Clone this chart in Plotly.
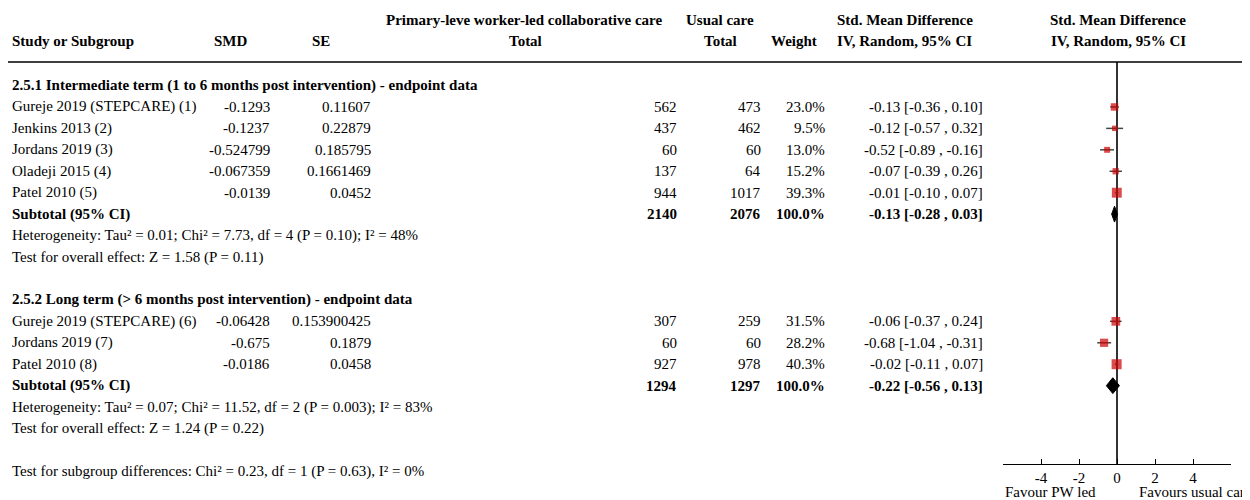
import plotly.graph_objects as go

# ---------------- data ----------------
sec1_title = "2.5.1 Intermediate term (1 to 6 months post intervention) - endpoint data"
sec1_names = ["Gureje 2019 (STEPCARE) (1)", "Jenkins 2013 (2)", "Jordans 2019 (3)",
              "Oladeji 2015 (4)", "Patel 2010 (5)"]
sec1_smd = ["-0.1293", "-0.1237", "-0.524799", "-0.067359", "-0.0139"]
sec1_se = ["0.11607", "0.22879", "0.185795", "0.1661469", "0.0452"]
sec1_n_pw = [562, 437, 60, 137, 944]
sec1_n_uc = [473, 462, 60, 64, 1017]
sec1_weight = [23.0, 9.5, 13.0, 15.2, 39.3]
sec1_est = [-0.13, -0.12, -0.52, -0.07, -0.01]
sec1_lo = [-0.36, -0.57, -0.89, -0.39, -0.10]
sec1_hi = [0.10, 0.32, -0.16, 0.26, 0.07]
sec1_sub = dict(n_pw=2140, n_uc=2076, est=-0.13, lo=-0.28, hi=0.03)
sec1_het = "Heterogeneity: Tau² = 0.01; Chi² = 7.73, df = 4 (P = 0.10); I² = 48%"
sec1_test = "Test for overall effect: Z = 1.58 (P = 0.11)"

sec2_title = "2.5.2 Long term (> 6 months post intervention) - endpoint data"
sec2_names = ["Gureje 2019 (STEPCARE) (6)", "Jordans 2019 (7)", "Patel 2010 (8)"]
sec2_smd = ["-0.06428", "-0.675", "-0.0186"]
sec2_se = ["0.153900425", "0.1879", "0.0458"]
sec2_n_pw = [307, 60, 927]
sec2_n_uc = [259, 60, 978]
sec2_weight = [31.5, 28.2, 40.3]
sec2_est = [-0.06, -0.68, -0.02]
sec2_lo = [-0.37, -1.04, -0.11]
sec2_hi = [0.24, -0.31, 0.07]
sec2_sub = dict(n_pw=1294, n_uc=1297, est=-0.22, lo=-0.56, hi=0.13)
sec2_het = "Heterogeneity: Tau² = 0.07; Chi² = 11.52, df = 2 (P = 0.003); I² = 83%"
sec2_test = "Test for overall effect: Z = 1.24 (P = 0.22)"

subgroup_test = "Test for subgroup differences: Chi² = 0.23, df = 1 (P = 0.63), I² = 0%"

x_ticks = [-4, -2, 0, 2, 4]
favour_left = "Favour PW led"
favour_right = "Favours usual care"

# ---------------- layout helpers ----------------
W, H = 1250, 500
OFF = 8            # page body margin (screen px -> figure px)
ROW0_PX = 85.5     # screen y of first row (text centre)
ROW_H = 21.44
PAD = 2            # annotation inner padding compensation
HDR1_Y, HDR2_Y = 19.7, 41.1
FONT = "Liberation Serif, Times New Roman, serif"
FS = 15


def py(r):
    return 1 - (ROW0_PX + ROW_H * r - OFF) / H


def pyp(y):
    return 1 - (y - OFF) / H


def px(x):
    return (x - OFF) / W


annotations = []


def txt(s, x, r, anchor="left", bold=False, yabs=None):
    if bold:
        s = "<b>" + s + "</b>"
    if anchor == "left":
        x = x - PAD
    elif anchor == "right":
        x = x + PAD
    annotations.append(dict(text=s, x=px(x), y=(py(r) if yabs is None else pyp(yabs)),
                            xref="paper", yref="paper",
                            xanchor=anchor, yanchor="middle", showarrow=False,
                            font=dict(family=FONT, size=FS, color="#000")))


def ci_str(e, l, h):
    return f"{e:.2f} [{l:.2f} , {h:.2f}]"


# header
txt("Primary-leve worker-led collaborative care", 524, 0, "center", True, yabs=HDR1_Y)
txt("Usual care", 720, 0, "center", True, yabs=HDR1_Y)
txt("Std. Mean Difference", 837, 0, "left", True, yabs=HDR1_Y)
txt("Std. Mean Difference", 1118, 0, "center", True, yabs=HDR1_Y)
txt("Study or Subgroup", 12, 0, "left", True, yabs=HDR2_Y)
txt("SMD", 214, 0, "left", True, yabs=HDR2_Y)
txt("SE", 312, 0, "left", True, yabs=HDR2_Y)
txt("Total", 525, 0, "center", True, yabs=HDR2_Y)
txt("Total", 720, 0, "center", True, yabs=HDR2_Y)
txt("Weight", 794, 0, "center", True, yabs=HDR2_Y)
txt("IV, Random, 95% CI", 837, 0, "left", True, yabs=HDR2_Y)
txt("IV, Random, 95% CI", 1118, 0, "center", True, yabs=HDR2_Y)

fig = go.Figure()

sections = [
    (0, sec1_title, sec1_names, sec1_smd, sec1_se, sec1_n_pw, sec1_n_uc, sec1_weight,
     sec1_est, sec1_lo, sec1_hi, sec1_sub, sec1_het, sec1_test),
    (10, sec2_title, sec2_names, sec2_smd, sec2_se, sec2_n_pw, sec2_n_uc, sec2_weight,
     sec2_est, sec2_lo, sec2_hi, sec2_sub, sec2_het, sec2_test),
]

for (start, title, names, smd, se, npw, nuc, wt, est, lo, hi, sub, het, test) in sections:
    txt(title, 12, start, "left", True)
    rows = []
    for i in range(len(names)):
        r = start + 1 + i
        rows.append(r)
        txt(names[i], 12, r)
        txt(smd[i], 270, r, "right")
        txt(se[i], 371, r, "right")
        txt(str(npw[i]), 677, r, "right")
        txt(str(nuc[i]), 761, r, "right")
        txt(f"{wt[i]:.1f}%", 825, r, "right")
        txt(ci_str(est[i], lo[i], hi[i]), 983, r, "right")
    rs = start + 1 + len(names)
    txt("Subtotal (95% CI)", 12, rs, "left", True)
    txt(str(sub["n_pw"]), 677, rs, "right", True)
    txt(str(sub["n_uc"]), 761, rs, "right", True)
    txt("100.0%", 825, rs, "right", True)
    txt(ci_str(sub["est"], sub["lo"], sub["hi"]), 983, rs, "right", True)
    txt(het, 12, rs + 1)
    txt(test, 12, rs + 2)

    # study markers with CI lines
    fig.add_trace(go.Scatter(
        x=est, y=rows, mode="markers", xaxis="x", yaxis="y",
        marker=dict(symbol="square", color="#cc0000",
                    size=[4 + 0.15 * w for w in wt],
                    line=dict(width=0)),
        error_x=dict(type="data", symmetric=False,
                     array=[h - e for h, e in zip(hi, est)],
                     arrayminus=[e - l for e, l in zip(est, lo)],
                     thickness=1.5, width=0, color="#444"),
        showlegend=False, hoverinfo="skip"))
    # subtotal diamond
    dh = 0.37
    fig.add_trace(go.Scatter(
        x=[sub["lo"], sub["est"], sub["hi"], sub["est"], sub["lo"]],
        y=[rs, rs - dh, rs, rs + dh, rs], mode="lines", fill="toself",
        fillcolor="#000", line=dict(color="#000", width=1),
        xaxis="x", yaxis="y", showlegend=False, hoverinfo="skip"))

txt(subgroup_test, 12, 18)
txt(favour_left, 1005, 0, "left", yabs=492)
txt(favour_right, 1139, 0, "left", yabs=492)

axis_top_px, axis_bot_px = 62, 464
r_top = (axis_top_px - ROW0_PX) / ROW_H
r_bot = (axis_bot_px - ROW0_PX) / ROW_H

fig.update_layout(
    width=W, height=H, margin=dict(l=0, r=0, t=0, b=0),
    paper_bgcolor="white", plot_bgcolor="white",
    font=dict(family=FONT, size=FS, color="#000"),
    annotations=annotations,
    xaxis=dict(domain=[px(1003), px(1231)], range=[-6, 6], tickvals=x_ticks,
               ticktext=[str(t) for t in x_ticks], ticks="inside", ticklen=5,
               tickcolor="#000", showline=True, linecolor="#000", linewidth=1,
               zeroline=True, zerolinecolor="#333", zerolinewidth=1.5,
               showgrid=False, anchor="y", fixedrange=True,
               tickfont=dict(family=FONT, size=FS, color="#000")),
    yaxis=dict(domain=[pyp(axis_bot_px), pyp(axis_top_px)], range=[r_bot, r_top],
               visible=False, showgrid=False, zeroline=False, fixedrange=True),
    shapes=[dict(type="line", xref="paper", yref="paper", x0=0, x1=1,
                 y0=pyp(axis_top_px), y1=pyp(axis_top_px),
                 line=dict(color="#000", width=1.5))],
)

fig.write_html("out.html")
